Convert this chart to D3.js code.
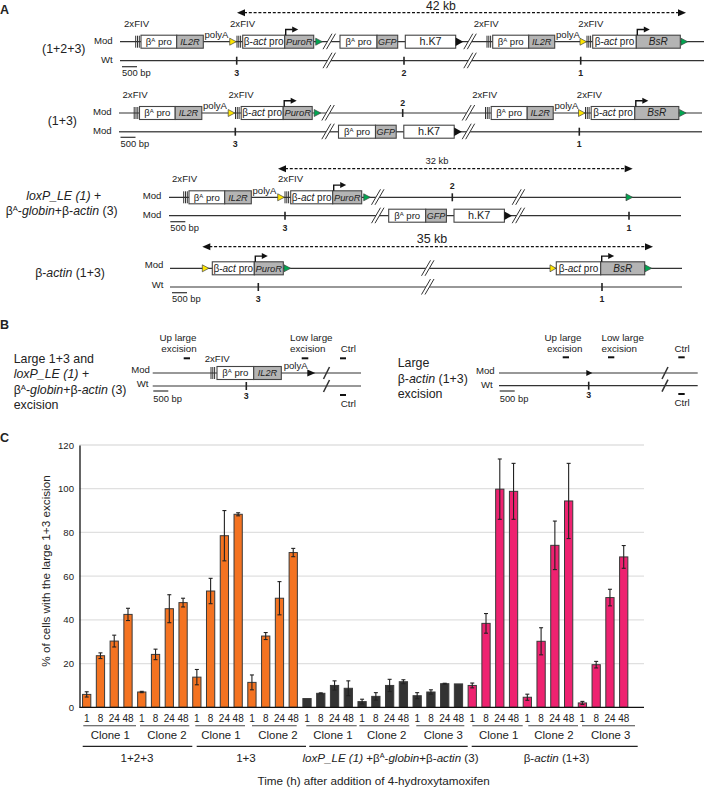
<!DOCTYPE html>
<html><head><meta charset="utf-8">
<script src="https://cdnjs.cloudflare.com/ajax/libs/d3/7.8.5/d3.min.js"></script>
<style>html,body{margin:0;padding:0;background:#fff}svg{display:block}text{font-family:"Liberation Sans",Arial,sans-serif;fill:#222}</style>
</head><body><svg id="c" width="704" height="788"></svg>
<script>
// ---------- chart data ----------
const timeLabels = ["1","8","24","48"];
const means_123 = [5.9,23.6,30.3,42.5, 7.0,24.2,45.1,47.9];
const errs_123  = [1.2,1.3,2.7,2.8, 0.3,2.4,6.4,2.0];
const means_13  = [13.8,53.2,78.5,88.3, 11.4,32.6,49.9,70.8];
const errs_13   = [3.5,5.8,11.5,0.7, 3.4,1.6,7.6,1.9];
const means_lox = [4.0,6.4,10.0,8.7, 2.6,5.0,10.0,11.7, 5.3,7.0,10.8,10.7];
const errs_lox  = [0,0.2,2.1,3.4, 1.1,1.7,2.8,0.9, 1.4,1.0,0.2,0];
const means_act = [10.0,38.4,99.8,98.8, 4.6,30.2,74.1,94.4, 2.0,19.5,50.2,68.8];
const errs_act  = [1.1,4.5,13.8,12.8, 1.4,6.2,11.1,17.2, 0.7,1.5,3.8,5.2];
const yTicks = [0,20,40,60,80,100,120];
const groupColors = ["#f47321","#f47321","#333333","#ee2270"];

const cloneNames = ["Clone 1","Clone 2","Clone 1","Clone 2","Clone 1","Clone 2","Clone 3","Clone 1","Clone 2","Clone 3"];
const cloneStart = [83.3,140,195.3,252,306.3,359.3,416.3,472.3,528.3,582];
const cloneEnd   = [136,189.3,245,296.7,356.7,409.3,464.3,522.7,578,635];
const cloneText  = [110.3,167,221,278,333,386.7,443.3,498.7,554,610.7];
const groupNames = ["1+2+3","1+3","*loxP_LE (1)* +β^A-*globin*+β-*actin* (3)","β-*actin* (1+3)"];
const groupStart = [82.7,196.7,309.3,471.7];
const groupEnd   = [192.3,306,467.7,637.7];
const groupText  = [137,246,390.5,556.5];

// ---------- helpers ----------
const svg = d3.select("#c");
const ink = "#333";
function T(x,y,s,o={}){
  const fs=o.fs||9.6;
  const t = svg.append("text").attr("x",x).attr("y",y)
    .attr("font-size",fs).attr("text-anchor",o.a||"start");
  if(o.b) t.attr("font-weight","bold");
  if(o.rot!==undefined) t.attr("transform",`rotate(${o.rot} ${x} ${y})`);
  let pend=0;
  s.split(/(\*[^*]+\*|\^A)/).filter(d=>d!=="").forEach(p=>{
    if(p==="^A"){ t.append("tspan").attr("dy",-fs*0.32).attr("font-size",fs*0.62).text("A"); pend=fs*0.32; return; }
    const ts=t.append("tspan");
    if(pend){ts.attr("dy",pend);pend=0;}
    if(p[0]==="*"){ts.attr("font-style","italic").text(p.slice(1,-1));} else ts.text(p);
  });
  return t;
}
function L(x1,y1,x2,y2,w=1.2,c=ink){return svg.append("line").attr("x1",x1).attr("y1",y1).attr("x2",x2).attr("y2",y2).attr("stroke",c).attr("stroke-width",w);}
function fiv(x,y){[0,1.8,3.6].forEach(d=>L(x+d,y-6,x+d,y+6,1));}
function tri(x,y,c,w=6.6,h=7){svg.append("path").attr("d",`M${x},${y-h/2}L${x+w},${y}L${x},${y+h/2}Z`).attr("fill",c).attr("stroke",c==="#111"?"none":"#444").attr("stroke-width",.7);}
function brk(x,y,single){
  if(single){L(x-3,y+6,x+3,y-6,1.5,"#333");return;}
  svg.append("path").attr("d",`M${x-6.5},${y+7.5}L${x+2.5},${y-8}L${x+6},${y-8}L${x-3},${y+7.5}Z`).attr("fill","#fff");
  L(x-6.5,y+7.5,x+2.5,y-8,1); L(x-3,y+7.5,x+6,y-8,1);
}
function gene(x0,xd,x1,y,a,b,arrow,fa=9.6,fb=9.4){
  svg.append("rect").attr("x",x0).attr("y",y-6.5).attr("width",xd-x0).attr("height",13).attr("fill","#fff").attr("stroke","#444").attr("stroke-width",1.1);
  svg.append("rect").attr("x",xd).attr("y",y-6.5).attr("width",x1-xd).attr("height",13).attr("fill","#b4b4b4").attr("stroke","#444").attr("stroke-width",1.1);
  T((x0+xd)/2,y+3.3,a,{fs:fa,a:"middle"});
  T((xd+x1)/2,y+3.3,b,{fs:fb,a:"middle"});
  if(arrow){
    svg.append("path").attr("d",`M${xd+1},${y-6.5}V${y-12.2}H${xd+8}`).attr("fill","none").attr("stroke","#111").attr("stroke-width",1.4);
    tri(xd+7.5,y-12.2,"#111",6,6);
  }
}
function tick(x,y,lab,ly){L(x,y-4,x,y+4,1.6,"#222"); if(lab) T(x,ly,lab,{fs:8.8,b:1,a:"middle"});}
function dashed(x0,x1,y){L(x0+7,y,x1-7,y,1.2,"#111").attr("stroke-dasharray","3,1.8");
  tri(x1-8,y,"#111",8,7); svg.append("path").attr("d",`M${x0+8},${y-3.5}L${x0},${y}L${x0+8},${y+3.5}Z`).attr("fill","#111");}
function scaleBar(x,y,ly){L(x,y,x+15,y,1.2,"#333"); T(x,ly,"500 bp",{fs:9.4});}
function leftCassette(d,y){
  T(124+d,y-15,"2xFIV"); fiv(135.7+d,y);
  gene(141+d,176.7+d,203.3+d,y,"β^A pro","*IL2R*",false,9.6,9.2);
  T(204.5+d,y-3.8,"polyA"); tri(229.7+d,y,"#ffe600");
  T(230+d,y-15,"2xFIV"); fiv(237+d,y);
  gene(242.7+d,284.7+d,313.7+d,y,"β-*act* pro","*PuroR*",true,10,9.4);
  tri(315.7+d,y,"#00a651");
}
function k7(d,y){
  gene(340+d,377+d,397.7+d,y,"β^A pro","*GFP*",false,9.6,9);
  svg.append("rect").attr("x",405.3+d).attr("y",y-6.5).attr("width",50.4).attr("height",13).attr("fill","#fff").attr("stroke","#444").attr("stroke-width",1.1);
  T(430.5+d,y+3.6,"h.K7",{fs:10.8,a:"middle"});
  tri(455.7+d,y,"#111",7.6,8.5);
}
function rightCassette(d,y){
  T(473.7+d,y-15,"2xFIV"); fiv(487+d,y);
  gene(492.7+d,528.7+d,554.7+d,y,"β^A pro","*IL2R*",false,9.6,9.2);
  T(556+d,y-3.8,"polyA"); tri(580+d,y,"#ffe600");
  T(578.3+d,y-15,"2xFIV"); fiv(587+d,y);
  gene(592.7+d,636.3+d,680.3+d,y,"β-*act* pro","*BsR*",true,10,10);
  tri(681+d,y,"#00a651");
}
const panel = (s,y)=>T(0,y,s,{fs:12.5,b:1});

// ---------- panel A ----------
panel("A",14);
dashed(237,686,12.7); T(441,9.6,"42 kb",{fs:12.2,a:"middle"});
// 1+2+3
L(120,41.7,704,41.7); L(120,60.7,704,60.7);
leftCassette(0,41.7); k7(0,41.7); rightCassette(0,41.7);
brk(329.5,41.7); brk(329.5,60.7); brk(470.3,41.7); brk(470.3,60.7);
tick(236.7,60.7,"3",76); tick(404,60.7,"2",76); tick(580.7,60.7,"1",76);
scaleBar(122,66.7,76);
T(94,44,"Mod"); T(101,62.7,"Wt"); T(42,53,"(1+2+3)",{fs:12.4});
// 1+3
L(119,113,702,113); L(119,131.7,702,131.7,1.5,"#555");
leftCassette(-1.5,113); rightCassette(-1.5,113); k7(-1.5,131.7);
brk(328.3,113); brk(328.3,131.7); brk(468.7,113); brk(468.7,131.7);
tick(402.7,113,"2",106); tick(235.3,131.7,"3",147); tick(579.3,131.7,"1",147);
scaleBar(120.5,137.3,147);
T(93,115,"Mod"); T(93,134,"Mod"); T(47.7,125,"(1+3)",{fs:12.4});
// loxP_LE
dashed(278,632.7,168.7); T(437,164.3,"32 kb",{fs:9.4,a:"middle"});
L(169,197.3,681,197.3); L(169,215.7,681,215.7);
leftCassette(48,197.3); k7(48.7,215.7);
brk(378,197.3); brk(378,215.7); brk(518.7,197.3); brk(518.7,215.7);
tri(626,197.3,"#00a651");
tick(452.3,197.3,"2",189.3); tick(285,215.7,"3",231.3); tick(629,215.7,"1",231.3);
scaleBar(170.3,221.7,231.3);
T(142.7,199,"Mod"); T(142.7,218.3,"Mod");
T(63.7,200,"*loxP_LE (1)* +",{fs:12.3,a:"middle"});
T(5.7,215,"β^A-*globin*+β-*actin* (3)",{fs:12.3});
// beta-actin
dashed(202.3,653,246.7); T(432,243.3,"35 kb",{fs:12.5,a:"middle"});
L(170,268.3,682,268.3); L(170,287,682,287);
tri(202.3,268.3,"#ffe600");
gene(212.3,254.3,283.3,268.3,"β-*act* pro","*PuroR*",true,10,9.4); tri(284,268.3,"#00a651");
brk(428,268.3); brk(428,287);
tri(550,268.3,"#ffe600",6);
gene(556.3,600.7,644.7,268.3,"β-*act* pro","*BsR*",true,10,10); tri(645,268.3,"#00a651");
tick(258.3,287,"3",302); tick(602,287,"1",302);
scaleBar(172,292.7,302);
T(144.7,268,"Mod"); T(151.7,288,"Wt");
T(70,277.3,"β-*actin* (1+3)",{fs:12.3,a:"middle"});

// ---------- panel B ----------
panel("B",329);
["Large 1+3 and","*loxP_LE (1)* +","β^A-*globin*+β-*actin* (3)","excision"].forEach((s,i)=>T(13.7,[362.7,378.3,394,409][i],s,{fs:12.4}));
L(152.7,373,361,373); L(152.7,386,361,386);
T(204.7,362,"2xFIV"); fiv(211,373);
gene(217,253.7,281.3,373,"β^A pro","*IL2R*",false,9.6,9.2);
T(283.7,368.7,"polyA"); tri(307.3,373,"#111",8,7);
brk(326.5,373,true); brk(326.5,386,true);
tick(246.3,386,"3",399.3);
scaleBar(153.3,391,402);
T(131.3,373,"Mod"); T(136.7,387,"Wt");
T(178,340.7,"Up large",{a:"middle",fs:9.8}); T(179,352,"excision",{a:"middle",fs:9.8}); L(183.7,358.3,190,358.3,2,"#111");
T(311.3,340.7,"Low large",{a:"middle",fs:9.8}); T(307.7,352,"excision",{a:"middle",fs:9.8}); L(301.7,358.3,308.3,358.3,2,"#111");
T(340.7,352,"Ctrl",{fs:9.8}); L(340,358.3,346,358.3,2,"#111");
L(340,395,346,395,2,"#111"); T(340.7,406.7,"Ctrl",{fs:9.8});

["Large","β-*actin* (1+3)","excision"].forEach((s,i)=>T(397.7,[367.3,382.7,397.7][i],s,{fs:12.4}));
L(499,373,697.7,373); L(499,385.7,697.7,385.7);
tri(586.3,373,"#111",6,6);
tick(588.7,385.7,"3",398.3);
brk(665,373,true); brk(665,385.7,true);
scaleBar(499.7,391,401.7);
T(476,374.3,"Mod"); T(481,388,"Wt");
T(563,340.7,"Up large",{a:"middle",fs:9.8}); T(564.7,352,"excision",{a:"middle",fs:9.8}); L(562.7,357.3,569,357.3,2,"#111");
T(622.7,340.7,"Low large",{a:"middle",fs:9.8}); T(619.3,352,"excision",{a:"middle",fs:9.8}); L(608,357.3,614.3,357.3,2,"#111");
T(682,352,"Ctrl",{a:"middle",fs:9.8}); L(678.3,357.3,684.7,357.3,2,"#111");
L(678.3,394,684.7,394,2,"#111"); T(682,406,"Ctrl",{a:"middle",fs:9.8});

// ---------- panel C ----------
panel("C",442);
const means = [...means_123,...means_13,...means_lox,...means_act];
const errs  = [...errs_123,...errs_13,...errs_lox,...errs_act];
const groupSizes = [means_123.length,means_13.length,means_lox.length,means_act.length];
const colours = groupSizes.flatMap((n,g)=>Array(n).fill(groupColors[g]));
const idx = d3.range(means.length);
const x = d3.scaleBand().domain(idx).range([79.8,630.6]).paddingInner(0.4).paddingOuter(0.2);
const y = d3.scaleLinear().domain([0,120]).range([707.3,445]);

svg.append("g").selectAll("line").data(yTicks.filter(d=>d>0)).join("line")
  .attr("x1",79.5).attr("x2",644).attr("y1",y).attr("y2",y).attr("stroke","#e0e0e0").attr("stroke-width",1.3);

const yAxis = svg.append("g").attr("transform","translate(79.5,0)").call(d3.axisLeft(y).tickValues(yTicks).tickSize(0).tickPadding(5.5));
yAxis.select(".domain").attr("stroke","#111").attr("stroke-width",1.3);
yAxis.selectAll("text").attr("font-size",9.6).attr("font-family",null);

svg.append("g").selectAll("rect").data(idx).join("rect")
  .attr("x",i=>x(i)).attr("width",x.bandwidth()).attr("y",i=>y(means[i])).attr("height",i=>y(0)-y(means[i]))
  .attr("fill",i=>colours[i]).attr("stroke","#3a3a3a").attr("stroke-width",1);

const eb = svg.append("g").attr("stroke","#222").attr("stroke-width",1.1);
idx.filter(i=>errs[i]>0).forEach(i=>{
  const cx=x(i)+x.bandwidth()/2, up=y(means[i]+errs[i]), lo=y(means[i]-errs[i]);
  eb.append("line").attr("x1",cx).attr("x2",cx).attr("y1",up).attr("y2",lo);
  eb.append("line").attr("x1",cx-2).attr("x2",cx+2).attr("y1",up).attr("y2",up);
  eb.append("line").attr("x1",cx-2).attr("x2",cx+2).attr("y1",lo).attr("y2",lo);
});

const xAxis = svg.append("g").attr("transform","translate(0,707.3)")
  .call(d3.axisBottom(x).tickSize(0).tickPadding(7.4).tickFormat(i=>timeLabels[i%4]));
xAxis.select(".domain").remove();
xAxis.selectAll("text").attr("font-size",10).attr("font-family",null);
L(79.5,707.3,644,707.3,1.3,"#111");

cloneNames.forEach((n,i)=>{
  L(cloneStart[i],725.7,cloneEnd[i],725.7,1.1,"#444");
  T(cloneText[i],738.7,n,{fs:11.4,a:"middle"});
});
groupNames.forEach((n,i)=>{
  L(groupStart[i],746.3,groupEnd[i],746.3,1.2,"#222");
  T(groupText[i],761.7,n,{fs:11.6,a:"middle"});
});
T(373.6,785,"Time (h) after addition of 4-hydroxytamoxifen",{fs:11.7,a:"middle"});
T(50,571,"% of cells with the large 1+3 excision",{fs:11.7,a:"middle",rot:-90});
</script></body></html>
